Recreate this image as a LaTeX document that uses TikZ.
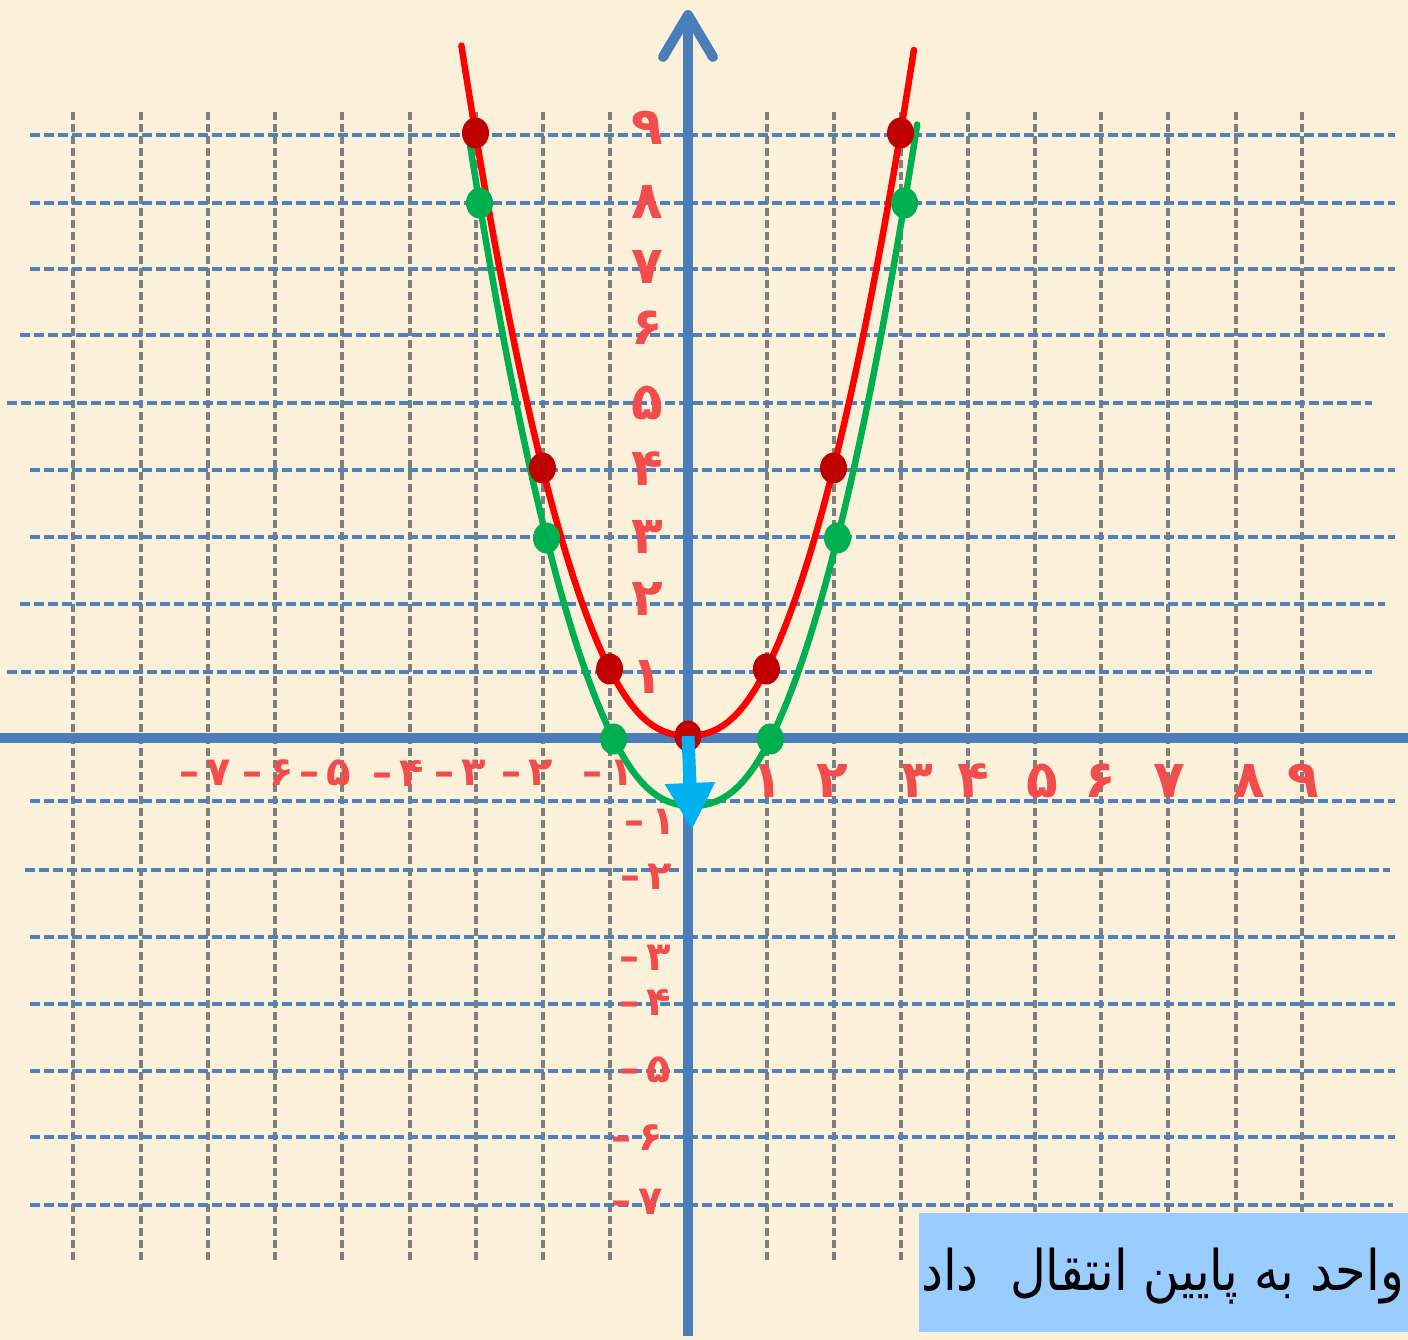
\documentclass[tikz,border=0pt]{standalone}
\usepackage{fontspec}
\usetikzlibrary{arrows.meta,shapes.geometric}
\newfontfamily\fafont[Script=Arabic]{DejaVu Sans}
\newfontfamily\notefont[Script=Arabic, FakeStretch=0.88]{DejaVu Sans}
\TeXXeTstate=1
\definecolor{paper}{RGB}{251,241,219}
\definecolor{axisblue}{RGB}{74,126,187}
\definecolor{gridblue}{RGB}{79,129,189}
\definecolor{gridgray}{RGB}{127,127,127}
\definecolor{digitred}{RGB}{242,76,76}
\definecolor{dotred}{RGB}{192,0,0}
\definecolor{curvered}{RGB}{255,0,0}
\definecolor{curvegreen}{RGB}{0,176,80}
\definecolor{shiftblue}{RGB}{0,176,240}
\definecolor{notebox}{RGB}{153,204,255}

\begin{document}
\begin{tikzpicture}[x=1pt, y=-1pt,
  hline/.style={gridblue, line width=3.6pt, dash pattern=on 10pt off 4pt},
  vline/.style={gridgray, line width=3.6pt, dash pattern=on 8pt off 4pt},
  axis/.style={axisblue, line width=10pt},
  digit/.style={text=digitred, inner sep=0pt, font=\fafont\bfseries\fontsize{52}{52}\selectfont},
  negdigit/.style={digit, font=\fafont\bfseries\fontsize{40}{40}\selectfont},
  reddot/.style={ellipse, fill=dotred, minimum width=27pt, minimum height=31pt, inner sep=0pt},
  greendot/.style={ellipse, fill=curvegreen, minimum width=27pt, minimum height=31pt, inner sep=0pt},
  curve/.style={line width=6.5pt, line cap=round, samples=90}]
  \useasboundingbox (0,0) rectangle (1408,1340);
  \clip (0,0) rectangle (1408,1340);
  \fill[paper] (0,0) rectangle (1408,1340);
  % grid
  \foreach \gx in {73,141,208,275,342,410,476,543,610,767,834,901,968,1035,1101,1168,1236,1302}
    \draw[vline] (\gx,112) -- (\gx,1262);
  \foreach \gy/\ga/\gb in {135/30/1395, 203/30/1395, 269/30/1395, 335/20/1385, 403/7/1372,
      470/30/1395, 537/30/1395, 604/20/1385, 672/7/1372, 801/30/1395, 870/25/1390,
      937/30/1395, 1004/30/1395, 1071/30/1395, 1137/30/1395, 1205/30/1393}
    \draw[hline] (\ga,\gy) -- (\gb,\gy);
  % axes
  \coordinate (xleft) at (0,738);
  \coordinate (xright) at (1408,738);
  \coordinate (ybottom) at (688,1336);
  \coordinate (ytop) at (688,10);
  \draw[axis] (xleft) -- (xright);
  \draw[axis, -{Straight Barb[length=42pt, width=50pt, line cap=round, line join=round]}] (ybottom) -- (ytop);
  % labels on the y axis
  \foreach \n/\py/\d in {9/128/۹, 8/202/۸, 7/267/۷, 6/328/۶, 5/403/۵, 4/469/۴, 3/537/۳, 2/599/۲, 1/677/۱}
    \node[digit] (yl\n) at (647,\py) {\d};
  \foreach \n/\px/\py/\d in {1/650/822/۱, 2/646/877/۲, 3/645/958/۳, 4/645/1002/۴, 5/645/1070/۵, 6/637/1138/۶, 7/637/1202/۷}
    \node[negdigit] (ylm\n) at (\px,\py) {–\,\d};
  % labels on the x axis
  \foreach \n/\px/\d in {1/767/۱, 2/832/۲, 3/917/۳, 4/973/۴, 5/1042/۵, 6/1100/۶, 7/1169/۷, 8/1249/۸, 9/1303/۹}
    \node[digit] (xl\n) at (\px,781) {\d};
  \foreach \n/\px/\d in {1/608/۱, 2/527/۲, 3/460/۳, 4/398/۴, 5/325/۵, 6/268/۶, 7/205/۷}
    \node[negdigit] (xlm\n) at (\px,773) {–\,\d};
  % the two parabolas
  \draw[curve, curvegreen, domain=-3.18:3.19] plot ({692+67*\x+11.5*tanh(2.5*\x)}, {806-67*(\x)^2});
  \draw[curve, curvered, domain=-3.21:3.2] plot ({688+67*\x+11.5*tanh(2.5*\x)}, {736-67*(\x)^2});
  \node[greendot] (grnm3) at (479.5,203) {};
  \node[greendot] (grnm2) at (546.5,538) {};
  \node[greendot] (grnm1) at (613.6,739) {};
  \node[greendot] (grn1) at (770.4,739) {};
  \node[greendot] (grn2) at (837.5,538) {};
  \node[greendot] (grn3) at (904.5,203) {};
  \node[reddot] (redm3) at (475.5,133) {};
  \node[reddot] (redm2) at (542.5,468) {};
  \node[reddot] (redm1) at (609.6,669) {};
  \node[reddot] (red0) at (688,736) {};
  \node[reddot] (red1) at (766.4,669) {};
  \node[reddot] (red2) at (833.5,468) {};
  \node[reddot] (red3) at (900.5,133) {};
  % shift down by one
  \coordinate (shifttip) at (692,830);
  \draw[shiftblue, line width=13pt, -{Triangle[length=47pt, width=47pt]}] (red0.center) -- (shifttip);
  % note
  \node[fill=notebox, minimum width=489pt, minimum height=119pt, anchor=north west, inner sep=0pt] (notebg) at (919,1213) {};
  \node[anchor=base west, inner sep=0pt, font=\notefont\fontsize{56}{56}\selectfont] (note) at (921,1290) {\beginR واحد به پایین انتقال~ داد\endR};
\end{tikzpicture}
\end{document}
